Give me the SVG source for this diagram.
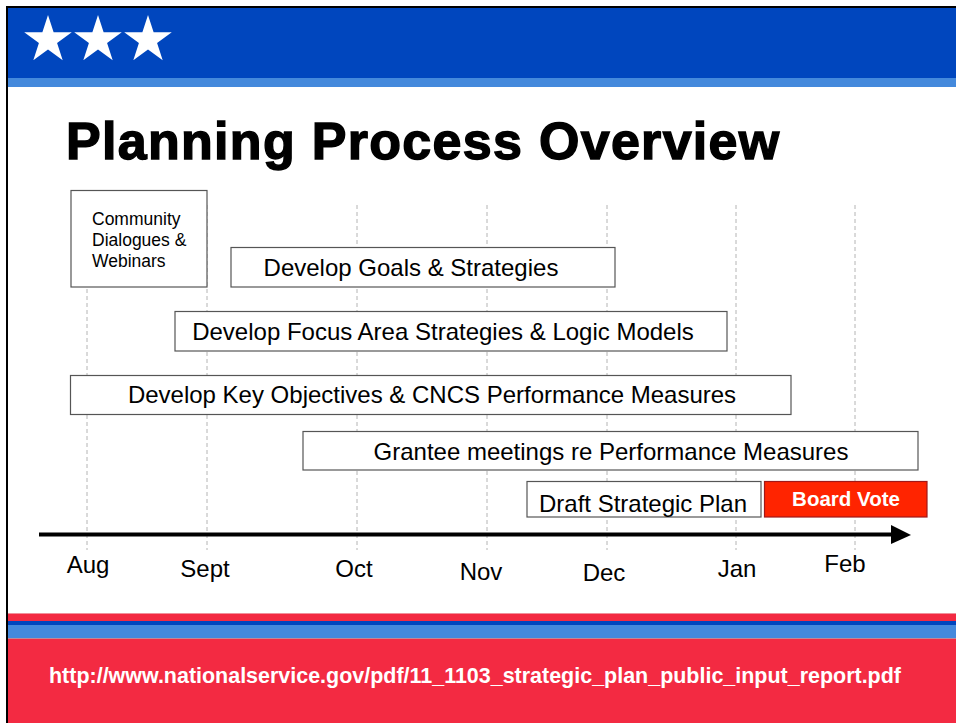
<svg xmlns="http://www.w3.org/2000/svg" width="956" height="723" viewBox="0 0 956 723">
<defs>
<style>
.box{fill:#fff;stroke:#555;stroke-width:1.2}
.lbl{font-family:"Liberation Sans",Arial,sans-serif;font-size:24px;fill:#000;text-anchor:middle}
.mon{font-family:"Liberation Sans",Arial,sans-serif;font-size:24px;fill:#000;text-anchor:middle}
.grid{stroke:#b4b4b4;stroke-width:1;stroke-dasharray:4 3}
.star{fill:#fff}
</style>
<polygon id="star" class="star" points="0,-25 5.61,-7.73 23.78,-7.73 9.08,2.95 14.69,20.23 0,9.55 -14.69,20.23 -9.08,2.95 -23.78,-7.73 -5.61,-7.73"/>
</defs>
<rect x="0" y="0" width="956" height="723" fill="#fff"/>
<g id="header">
<rect x="8" y="8" width="948" height="70" fill="#0046BE"/>
<rect x="8" y="78" width="948" height="9" fill="#4489DC"/>
<use href="#star" x="48" y="40"/>
<use href="#star" x="98" y="40"/>
<use href="#star" x="148" y="40"/>
</g>
<g id="footer">
<rect x="8" y="613" width="948" height="110" fill="#F32A42"/>
<rect x="8" y="613" width="948" height="1" fill="#f0909a"/>
<rect x="8" y="621" width="948" height="4" fill="#0046BE"/>
<rect x="8" y="625" width="948" height="13" fill="#4489DC"/>
<rect x="8" y="638" width="948" height="1" fill="#c08898"/>
<text x="49" y="683" textLength="852" lengthAdjust="spacingAndGlyphs" font-family="'Liberation Sans',Arial,sans-serif" font-size="21.5" font-weight="bold" fill="#fff">http://www.nationalservice.gov/pdf/11_1103_strategic_plan_public_input_report.pdf</text>
</g>
<rect x="6" y="6" width="950" height="2" fill="#000"/>
<rect x="6" y="6" width="2" height="717" fill="#000"/>
<text id="title" x="66" y="159" font-family="'Liberation Sans',Arial,sans-serif" font-size="52" font-weight="bold" letter-spacing="1.3" fill="#000" stroke="#000" stroke-width="1.4">Planning Process Overview</text>
<g id="gridlines">
<line class="grid" x1="87" y1="205" x2="87" y2="550"/>
<line class="grid" x1="207" y1="205" x2="207" y2="550"/>
<line class="grid" x1="357" y1="205" x2="357" y2="550"/>
<line class="grid" x1="487" y1="205" x2="487" y2="550"/>
<line class="grid" x1="607" y1="205" x2="607" y2="550"/>
<line class="grid" x1="736" y1="205" x2="736" y2="550"/>
<line class="grid" x1="855" y1="205" x2="855" y2="550"/>
</g>
<g id="connectors">
<line x1="39" y1="534.5" x2="893" y2="534.5" stroke="#000" stroke-width="4"/>
<polygon points="891,525 911,535 891,544" fill="#000"/>
</g>
<g id="community">
<rect class="box" x="71" y="190.5" width="136" height="96.5"/>
<text font-family="'Liberation Sans',Arial,sans-serif" font-size="17.5" fill="#000"><tspan x="92" y="225">Community</tspan><tspan x="92" y="246">Dialogues &amp;</tspan><tspan x="92" y="267">Webinars</tspan></text>
</g>
<g id="goals">
<rect class="box" x="231" y="247.5" width="384" height="39.5"/>
<text class="lbl" x="411" y="276">Develop Goals &amp; Strategies</text>
</g>
<g id="focus">
<rect class="box" x="175" y="311.5" width="552" height="39.5"/>
<text class="lbl" x="443" y="340">Develop Focus Area Strategies &amp; Logic Models</text>
</g>
<g id="objectives">
<rect class="box" x="70.5" y="375.5" width="720.5" height="39"/>
<text class="lbl" x="432" y="403">Develop Key Objectives &amp; CNCS Performance Measures</text>
</g>
<g id="grantee">
<rect class="box" x="303" y="431.5" width="615" height="38.5"/>
<text class="lbl" x="611" y="460">Grantee meetings re Performance Measures</text>
</g>
<g id="draft">
<rect class="box" x="527" y="481.5" width="234" height="35.5"/>
<text class="lbl" x="643" y="512">Draft Strategic Plan</text>
</g>
<g id="boardvote">
<rect x="764.5" y="481.5" width="162.5" height="35.5" fill="#FF2400" stroke="#a01818" stroke-width="1.2"/>
<text x="846" y="506" font-family="'Liberation Sans',Arial,sans-serif" font-size="20.5" font-weight="bold" fill="#fff" text-anchor="middle">Board Vote</text>
</g>
<g id="months">
<text class="mon" x="88" y="573">Aug</text>
<text class="mon" x="205" y="577">Sept</text>
<text class="mon" x="354" y="577">Oct</text>
<text class="mon" x="481" y="580">Nov</text>
<text class="mon" x="604" y="581">Dec</text>
<text class="mon" x="737" y="577">Jan</text>
<text class="mon" x="845" y="572">Feb</text>
</g>
</svg>
